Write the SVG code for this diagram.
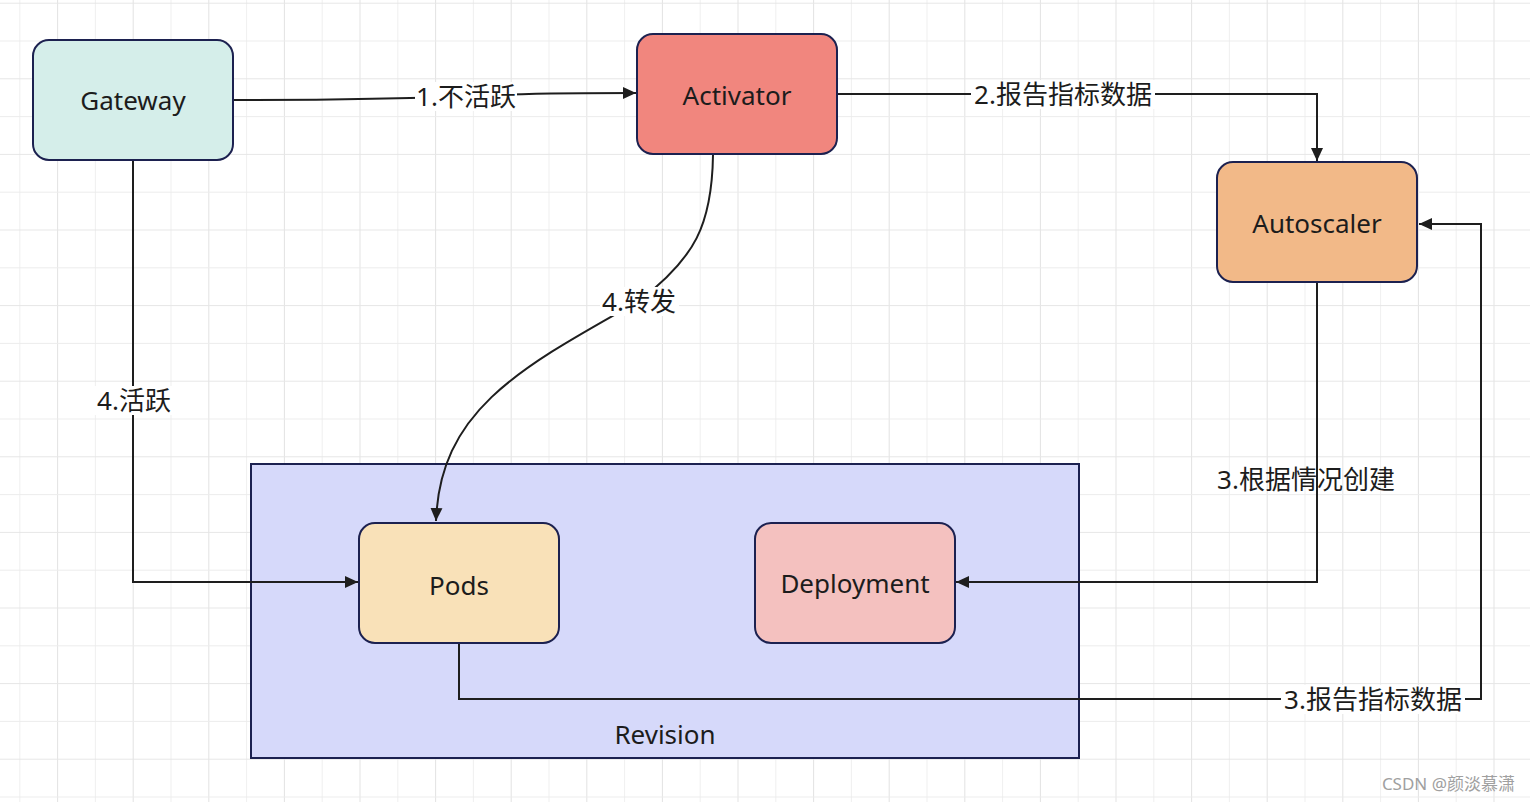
<svg xmlns="http://www.w3.org/2000/svg" width="1530" height="802" viewBox="0 0 1530 802">
<style>
.node{stroke:#1c2150;stroke-width:2}
.t{font-family:"Noto Sans","Noto Sans CJK SC",sans-serif;font-size:26px;fill:#1c1c1c;text-anchor:middle}
.edge{fill:none;stroke:#1e1e1e;stroke-width:2}
.lbg{fill:#ffffff}
.wm{font-family:"Noto Sans","Noto Sans CJK SC",sans-serif;font-size:17px;fill:#a0a0a0;text-anchor:end}
</style>
<defs>
<pattern id="grid" patternUnits="userSpaceOnUse" x="19.3" y="2.7" width="75.6" height="75.6">
<line x1="0.5" y1="0" x2="0.5" y2="75.6" stroke="#efefef" stroke-width="1"/>
<line x1="38.3" y1="0" x2="38.3" y2="75.6" stroke="#e2e2e2" stroke-width="1"/>
<line x1="0" y1="0.5" x2="75.6" y2="0.5" stroke="#e6e6e6" stroke-width="1"/>
<line x1="0" y1="38.3" x2="75.6" y2="38.3" stroke="#ececec" stroke-width="1"/>
</pattern>
<marker id="arr" markerUnits="userSpaceOnUse" viewBox="0 0 13 13" refX="13" refY="6.5" markerWidth="13" markerHeight="13" orient="auto">
<path d="M0,0.5 L13,6.5 L0,12.5 z" fill="#1e1e1e"/>
</marker>
</defs>
<rect width="1530" height="802" fill="#ffffff"/>
<rect width="1530" height="802" fill="url(#grid)"/>

<g id="revision">
<rect class="node" x="251" y="464" width="828" height="294" fill="#d6d9fa"/>
<text class="t" x="665" y="744">Revision</text>
</g>

<g id="gateway">
<rect class="node" x="33" y="40" width="200" height="120" rx="16" fill="#d5eeea"/>
<text class="t" x="133" y="110">Gateway</text>
</g>
<g id="activator">
<rect class="node" x="637" y="34" width="200" height="120" rx="16" fill="#f1867e"/>
<text class="t" x="737" y="105">Activator</text>
</g>
<g id="autoscaler">
<rect class="node" x="1217" y="162" width="200" height="120" rx="16" fill="#f2b988"/>
<text class="t" x="1317" y="233">Autoscaler</text>
</g>
<g id="pods">
<rect class="node" x="359" y="523" width="200" height="120" rx="16" fill="#f9e1b8"/>
<text class="t" x="459" y="595">Pods</text>
</g>
<g id="deployment">
<rect class="node" x="755" y="523" width="200" height="120" rx="16" fill="#f4c1bf"/>
<text class="t" x="855" y="593">Deployment</text>
</g>

<g id="connectors">
<path class="edge" d="M234,100 C330,100 400,99 466,96 C530,93 570,93 636,93" marker-end="url(#arr)"/>
<path class="edge" d="M838,94 L1317,94 L1317,161" marker-end="url(#arr)"/>
<path class="edge" d="M133,161 L133,582 L358,582" marker-end="url(#arr)"/>
<path class="edge" d="M713,155 C712,225 695,258 639,301 C520,368 440,410 436,521" marker-end="url(#arr)"/>
<path class="edge" d="M1317,283 L1317,582 L956,582" marker-end="url(#arr)"/>
<path class="edge" d="M459,644 L459,699 L1481,699 L1481,224 L1419,224" marker-end="url(#arr)"/>

<rect class="lbg" x="415" y="82" width="102" height="29"/>
<text class="t" x="466" y="106">1.不活跃</text>
<rect class="lbg" x="971" y="80" width="184" height="29"/>
<text class="t" x="1063" y="104">2.报告指标数据</text>
<rect class="lbg" x="600" y="287" width="79" height="29"/>
<text class="t" x="639" y="311">4.转发</text>
<rect class="lbg" x="94" y="386" width="80" height="29"/>
<text class="t" x="134" y="410">4.活跃</text>
<text class="t" x="1306" y="489">3.根据情况创建</text>
<rect class="lbg" x="1281" y="685" width="184" height="29"/>
<text class="t" x="1373" y="709">3.报告指标数据</text>
</g>

<text class="wm" x="1515" y="790">CSDN @颜淡慕潇</text>
</svg>
